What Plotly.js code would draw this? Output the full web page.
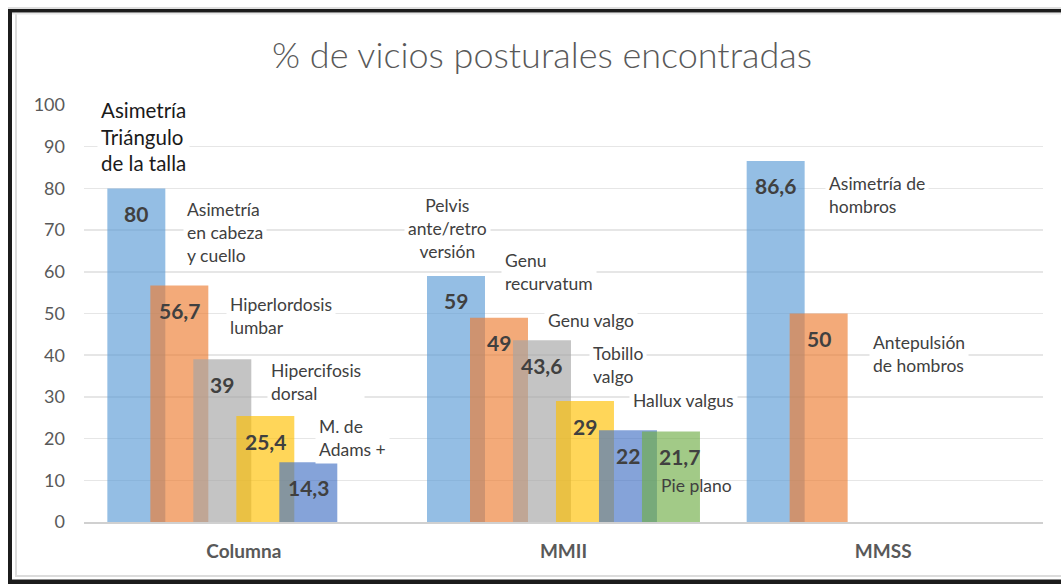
<!DOCTYPE html>
<html><head><meta charset="utf-8">
<script src="https://cdn.plot.ly/plotly-3.0.1.min.js"></script>
<style>html,body{margin:0;padding:0;background:#fff}#chart{width:1061px;height:584px}</style>
</head><body><div id="chart"></div>
<script>
// ---------- data ----------
const categories = ['Columna', 'MMII', 'MMSS'];
const series1 = [80, 59, 86.6];
const series2 = [56.7, 49, 50];
const series3 = [39, 43.6, null];
const series4 = [25.4, 29, null];
const series5 = [14.3, 22, null];
const series6 = [null, 21.7, null];
const yTickValues = [0, 10, 20, 30, 40, 50, 60, 70, 80, 90, 100];
const titleText = '% de vicios posturales encontradas';
const noteTexts = [
  'Asimetría<br>Triángulo<br>de la talla',
  'Asimetría<br>en cabeza<br>y cuello',
  'Hiperlordosis<br>lumbar',
  'Hipercifosis<br>dorsal',
  'M. de<br>Adams +',
  'Pelvis<br>ante/retro<br>versión',
  'Genu<br>recurvatum',
  'Genu valgo',
  'Tobillo<br>valgo',
  'Hallux valgus',
  'Pie plano',
  'Asimetría de<br>hombros',
  'Antepulsión<br>de hombros'
];

// ---------- layout / style ----------
const W = 1061, H = 584;
const M = {l: 84, r: 18, t: 105, b: 62};
const plotW = W - M.l - M.r, plotH = H - M.t - M.b;
const xUnit = plotW / categories.length;
const yMax = 100;
const pxToX = px => (px - M.l) / xUnit - 0.5;
const pyToY = py => (H - M.b - py) / plotH * yMax;
const pxToPX = px => (px - M.l) / plotW;
const pyToPY = py => (H - M.b - py) / plotH;

const FONT = 'Lato, "Open Sans", sans-serif';
const colors = [
  'rgba(91,155,213,0.65)', 'rgba(237,125,49,0.65)', 'rgba(165,165,165,0.65)',
  'rgba(255,192,0,0.65)', 'rgba(68,114,196,0.65)', 'rgba(112,173,71,0.65)'
];
const barWidth = 0.1814, barStep = 0.1345, firstOffset = -0.427;
const labelXShift = [0, 0, 0, 0, 0, 9];

const allSeries = [series1, series2, series3, series4, series5, series6];

const traces = allSeries.map((s, k) => ({
  type: 'bar', x: categories, y: s,
  offset: firstOffset + k * barStep, width: barWidth,
  marker: {color: colors[k], line: {width: 0}},
  hoverinfo: 'skip', showlegend: false
}));

const annotations = [];
allSeries.forEach((s, k) => {
  s.forEach((v, i) => {
    if (v === null) return;
    annotations.push({
      xref: 'x', yref: 'y', x: i + firstOffset + k * barStep + barWidth / 2, y: v,
      xanchor: 'center', yanchor: 'middle', yshift: -25, xshift: labelXShift[k],
      text: String(v).replace('.', ','), showarrow: false,
      font: {family: FONT, size: 21, weight: 700, color: '#404040'}
    });
  });
});

// placement of the descriptive text boxes (pixel anchors)
const notePlace = [
  {px: 100, py: 136, size: 20.5, color: '#1a1a1a'},
  {px: 186, py: 232},
  {px: 229, py: 316},
  {px: 270, py: 382},
  {px: 318, py: 438},
  {px: 447, py: 228, center: true},
  {px: 504, py: 272},
  {px: 547, py: 320},
  {px: 592, py: 365},
  {px: 632, py: 400},
  {px: 660, py: 485, nobg: true},
  {px: 828, py: 195},
  {px: 872, py: 354}
];
const pad = 3;
noteTexts.forEach((t, j) => {
  const p = notePlace[j];
  annotations.push({
    xref: 'x', yref: 'y',
    x: pxToX(p.center ? p.px : p.px - pad), y: pyToY(p.py),
    xanchor: p.center ? 'center' : 'left', yanchor: 'middle',
    align: p.center ? 'center' : 'left',
    text: t, showarrow: false,
    bgcolor: p.nobg ? 'rgba(0,0,0,0)' : '#ffffff', borderpad: pad,
    font: {family: FONT, size: p.size || 17.5, color: p.color || '#404040'}
  });
});

// frame
const rect = (x0, y0, x1, y1, c) => ({type: 'rect', xref: 'paper', yref: 'paper',
  x0: pxToPX(x0), x1: pxToPX(x1), y0: pyToPY(y0), y1: pyToPY(y1),
  fillcolor: c, line: {width: 0}, layer: 'above'});
const shapes = [
  rect(8, 7.5, 1061, 8.5, '#c0c0c0'),
  rect(8, 9, 1061, 12.5, '#1c1c1c'),
  rect(8, 9, 12, 584, '#1c1c1c'),
  rect(8, 579.5, 1061, 584, '#1c1c1c'),
  rect(15, 13, 17, 576, '#dcdcdc'),
  rect(15, 575, 1061, 577, '#dcdcdc'),
  rect(12, 13, 1061, 14.5, '#e6e6e6')
];

const layout = {
  width: W, height: H, margin: M,
  paper_bgcolor: '#ffffff', plot_bgcolor: '#ffffff',
  barmode: 'overlay',
  title: {
    text: titleText, xref: 'container', yref: 'container',
    x: 542 / W, y: 1 - 55 / H, xanchor: 'center', yanchor: 'middle',
    font: {family: FONT, size: 36, weight: 300, color: '#595959'}
  },
  xaxis: {
    type: 'category', range: [-0.5, categories.length - 0.5],
    showgrid: false, showline: true, linecolor: '#d0d0d0', linewidth: 2,
    ticks: '', ticklabelstandoff: 11,
    tickfont: {family: FONT, size: 19, weight: 700, color: '#595959'},
    fixedrange: true
  },
  yaxis: {
    range: [0, yMax], tickvals: yTickValues, ticktext: yTickValues.map(String),
    showgrid: true, gridcolor: '#e6e6e6', gridwidth: 1.5,
    zeroline: false, showline: false, ticks: '', ticklabelstandoff: 18,
    tickfont: {family: FONT, size: 18, color: '#595959'},
    fixedrange: true
  },
  annotations: annotations,
  shapes: shapes,
  showlegend: false
};

Plotly.newPlot('chart', traces, layout, {staticPlot: true, displayModeBar: false});
</script>
</body></html>
